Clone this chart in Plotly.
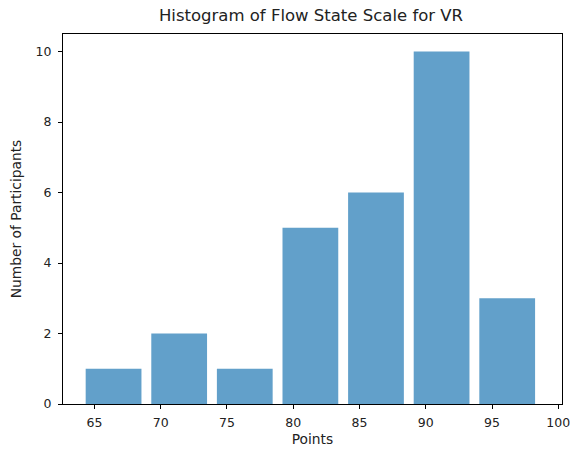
import plotly.graph_objects as go

# Histogram of Flow State Scale scores (VR condition)
bin_start = 63.97
bin_width = 4.95
counts = [1, 2, 1, 5, 6, 10, 3]
x_ticks = [65, 70, 75, 80, 85, 90, 95, 100]
y_ticks = [0, 2, 4, 6, 8, 10]

centers = [bin_start + bin_width * (i + 0.5) for i in range(len(counts))]
rwidth = 0.85

fig = go.Figure(
    go.Bar(
        x=centers,
        y=counts,
        width=[bin_width * rwidth] * len(counts),
        marker=dict(color="rgba(31,119,180,0.7)", line=dict(width=0)),
    )
)

font_family = "DejaVu Sans"
axis_common = dict(
    showline=True,
    linecolor="black",
    linewidth=1,
    mirror=True,
    ticks="outside",
    ticklen=4,
    tickcolor="black",
    showgrid=False,
    zeroline=False,
    automargin=False,
    tickfont=dict(family=font_family, size=12.5, color="#222"),
)

fig.update_layout(
    width=578,
    height=450,
    margin=dict(l=63, r=16, t=34, b=46),
    paper_bgcolor="white",
    plot_bgcolor="white",
    showlegend=False,
    title=dict(
        text="Histogram of Flow State Scale for VR",
        x=311 / 578,
        xanchor="center",
        y=1 - 15 / 450,
        yanchor="middle",
        font=dict(family=font_family, size=16.5, color="#222"),
    ),
    xaxis=dict(
        range=[62.63, 100.28],
        tickvals=x_ticks,
        ticklabelstandoff=3,
        title=dict(text="Points", font=dict(family=font_family, size=13.8, color="#222"), standoff=5),
        **axis_common,
    ),
    yaxis=dict(
        range=[0, 10.5],
        tickvals=y_ticks,
        ticklabelstandoff=4,
        title=dict(text="Number of Participants", font=dict(family=font_family, size=13.8, color="#222"), standoff=10),
        **axis_common,
    ),
)

fig.write_html("out.html")
